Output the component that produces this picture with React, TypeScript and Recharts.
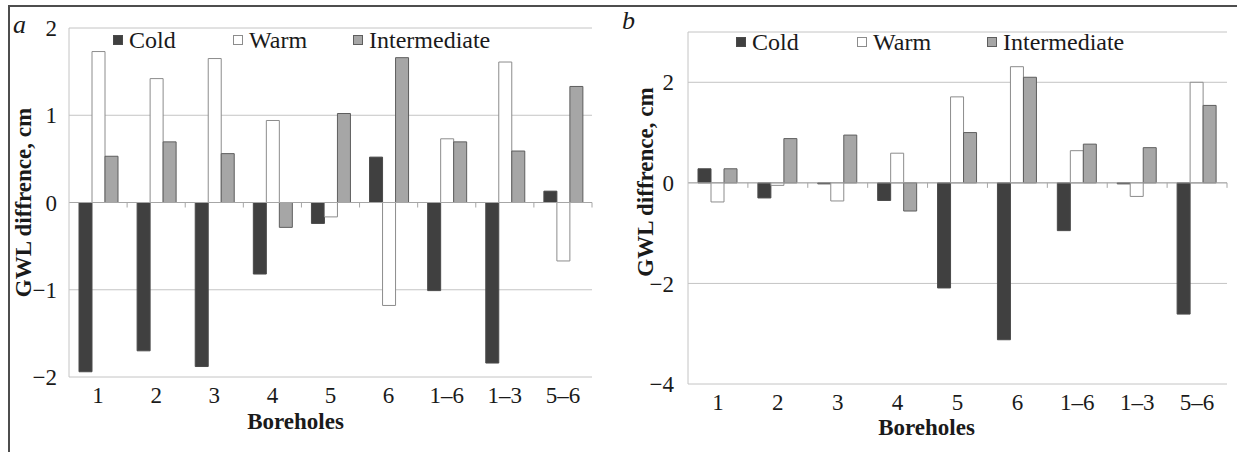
import React from "react";
import {
  Bar,
  BarChart,
  CartesianGrid,
  Label,
  Legend,
  ReferenceLine,
  XAxis,
  YAxis,
} from "recharts";

const FONT = '"Liberation Serif", "Times New Roman", serif';

// Categories shared by both panels
const boreholes = ["1", "2", "3", "4", "5", "6", "1–6", "1–3", "5–6"];

// Panel a
const coldA = [-1.94, -1.7, -1.88, -0.82, -0.24, 0.52, -1.01, -1.84, 0.13];
const warmA = [1.73, 1.42, 1.65, 0.94, -0.165, -1.18, 0.73, 1.61, -0.67];
const interA = [0.53, 0.695, 0.56, -0.285, 1.02, 1.66, 0.695, 0.59, 1.33];
const ticksA = [-2, -1, 0, 1, 2];

// Panel b
const coldB = [0.28, -0.3, -0.02, -0.35, -2.09, -3.12, -0.95, -0.02, -2.61];
const warmB = [-0.38, -0.05, -0.36, 0.59, 1.71, 2.31, 0.64, -0.27, 2.0];
const interB = [0.28, 0.88, 0.95, -0.56, 1.0, 2.1, 0.77, 0.7, 1.54];
const ticksB = [-4, -2, 0, 2];

const seriesNames = ["Cold", "Warm", "Intermediate"];

const SERIES = [
  { key: "cold", name: seriesNames[0], fill: "#404040", stroke: "#4a4a4a" },
  { key: "warm", name: seriesNames[1], fill: "#ffffff", stroke: "#8c8c8c" },
  { key: "inter", name: seriesNames[2], fill: "#a6a6a6", stroke: "#5e5e5e" },
];

const build = (c: number[], w: number[], m: number[]) =>
  boreholes.map((name, i) => ({ name, cold: c[i], warm: w[i], inter: m[i] }));

const dataA = build(coldA, warmA, interA);
const dataB = build(coldB, warmB, interB);

const fmt = (v: number) => (v < 0 ? `\u2212${Math.abs(v)}` : `${v}`);

const TICK_FONT = 23;
const TITLE_FONT = 23;

// zero line with the little category tick marks hanging under it
const ZeroAxis = (props: any) => {
  const { x1, y1, x2, y2 } = props;
  const step = (x2 - x1) / boreholes.length;
  return (
    <g>
      <line x1={x1} y1={y1} x2={x2} y2={y2} stroke="#a6a6a6" strokeWidth={1} />
      {boreholes.map((_, i) => (
        <line
          key={i}
          x1={x1 + step * (i + 1)}
          x2={x1 + step * (i + 1)}
          y1={y1}
          y2={y1 + 5}
          stroke="#a6a6a6"
        />
      ))}
    </g>
  );
};

function LegendRow({ widths }: { widths: number[] }) {
  return (
    <div style={{ display: "flex", fontFamily: FONT, fontSize: 24, lineHeight: "24px", color: "#1a1a1a" }}>
      {SERIES.map((s, i) => (
        <div key={s.key} style={{ display: "flex", alignItems: "center", width: widths[i] }}>
          <span
            style={{
              display: "inline-block",
              width: 8,
              height: 8,
              background: s.fill,
              border: `1px solid ${s.stroke}`,
              marginRight: 6,
            }}
          />
          <span style={{ whiteSpace: "nowrap" }}>{s.name}</span>
        </div>
      ))}
    </div>
  );
}

type PanelProps = {
  data: any[];
  ticks: number[];
  domain: [number, number];
  width: number;
  left: number;
  margin: { top: number; right: number; bottom: number; left: number };
  yAxisWidth: number;
  yTickMargin: number;
  yTitle: { x: number; dy: number };
  xTitle: { dx: number; dy: number };
  legend: { top: number; left: number; widths: number[] };
};

function Panel(p: PanelProps) {
  return (
    <div style={{ position: "absolute", left: p.left, top: 0 }}>
      <BarChart
        width={p.width}
        height={452}
        data={p.data}
        margin={p.margin}
        barGap={0}
        barSize={13}
      >
        <CartesianGrid vertical={false} stroke="#c4c4c4" />
        <XAxis
          dataKey="name"
          axisLine={false}
          tickLine={false}
          interval={0}
          height={30}
          tickSize={6}
          tickMargin={4}
          tick={{ fill: "#1a1a1a", fontSize: TICK_FONT, fontFamily: FONT }}
        >
          <Label
            content={(lp: any) => {
              const vb = lp.viewBox;
              return (
                <text
                  x={vb.x + vb.width / 2 + p.xTitle.dx}
                  y={vb.y + p.xTitle.dy}
                  textAnchor="middle"
                  fontFamily={FONT}
                  fontWeight="bold"
                  fontSize={TITLE_FONT}
                  fill="#1a1a1a"
                >
                  Boreholes
                </text>
              );
            }}
          />
        </XAxis>
        <YAxis
          domain={p.domain}
          ticks={p.ticks}
          width={p.yAxisWidth}
          axisLine={{ stroke: "#c4c4c4" }}
          tickLine={false}
          tickSize={6}
          tickMargin={p.yTickMargin}
          tickFormatter={fmt}
          tick={{ fill: "#1a1a1a", fontSize: TICK_FONT, fontFamily: FONT }}
        >
          <Label
            content={(lp: any) => {
              const vb = lp.viewBox;
              const cx = vb.x + p.yTitle.x;
              const cy = vb.y + vb.height / 2 + p.yTitle.dy;
              return (
                <text
                  x={cx}
                  y={cy}
                  transform={`rotate(-90 ${cx} ${cy})`}
                  textAnchor="middle"
                  dominantBaseline="central"
                  fontFamily={FONT}
                  fontWeight="bold"
                  fontSize={TITLE_FONT}
                  fill="#1a1a1a"
                >
                  GWL diffrence, cm
                </text>
              );
            }}
          />
        </YAxis>
        <ReferenceLine y={0} shape={ZeroAxis} />
        <Legend
          verticalAlign="middle"
          align="center"
          layout="horizontal"
          wrapperStyle={{ top: p.legend.top, left: p.legend.left, width: "auto", height: "auto" }}
          content={() => <LegendRow widths={p.legend.widths} />}
        />
        {SERIES.map((s) => (
          <Bar
            key={s.key}
            dataKey={s.key}
            name={s.name}
            fill={s.fill}
            stroke={s.stroke}
            strokeWidth={1}
            isAnimationActive={false}
          />
        ))}
      </BarChart>
    </div>
  );
}

export default function App() {
  return (
    <div
      style={{
        position: "absolute",
        left: 0,
        top: 0,
        width: 1237,
        height: 452,
        background: "#fff",
        overflow: "hidden",
      }}
    >
      <div
        style={{
          position: "absolute",
          left: 8,
          top: 5,
          width: 1229,
          height: 447,
          borderTop: "2px solid #4d4d4d",
          borderLeft: "2px solid #4d4d4d",
          boxSizing: "border-box",
        }}
      />
      <Panel
        data={dataA}
        ticks={ticksA}
        domain={[-2, 2]}
        width={610}
        left={0}
        margin={{ top: 28, right: 18, bottom: 45, left: 0 }}
        yAxisWidth={69}
        yTickMargin={6}
        yTitle={{ x: 23, dy: 0 }}
        xTitle={{ dx: -35, dy: 52 }}
        legend={{ top: 28, left: 113, widths: [120, 120, 140] }}
      />
      <Panel
        data={dataB}
        ticks={ticksB}
        domain={[-4, 3]}
        width={627}
        left={610}
        margin={{ top: 32, right: 10, bottom: 38, left: 0 }}
        yAxisWidth={78}
        yTickMargin={8}
        yTitle={{ x: 35, dy: -26 }}
        xTitle={{ dx: -31, dy: 51 }}
        legend={{ top: 30, left: 126, widths: [121, 130, 140] }}
      />
      <span
        style={{
          position: "absolute",
          left: 13,
          top: 12,
          fontFamily: FONT,
          fontStyle: "italic",
          fontSize: 26,
          lineHeight: "26px",
          color: "#1a1a1a",
        }}
      >
        a
      </span>
      <span
        style={{
          position: "absolute",
          left: 622,
          top: 8,
          fontFamily: FONT,
          fontStyle: "italic",
          fontSize: 26,
          lineHeight: "26px",
          color: "#1a1a1a",
        }}
      >
        b
      </span>
    </div>
  );
}
